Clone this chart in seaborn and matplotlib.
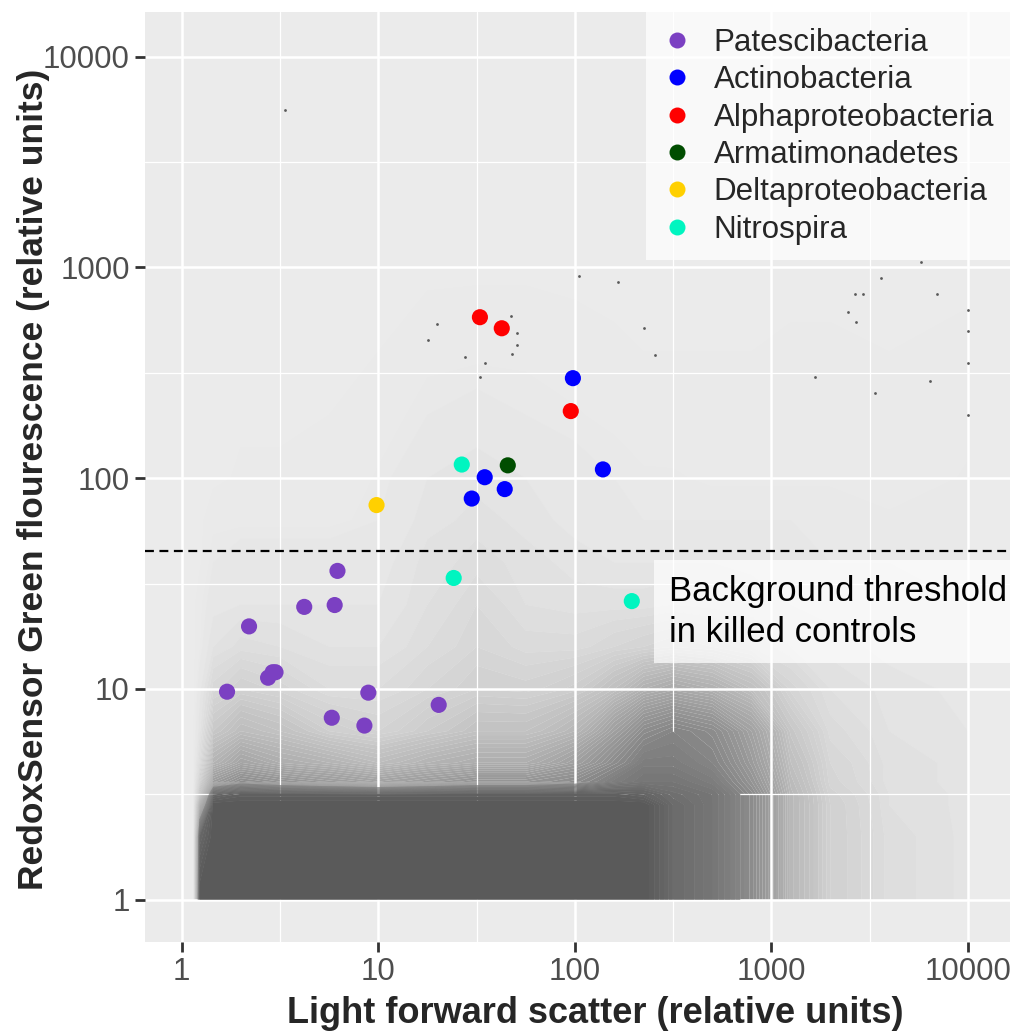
import numpy as np
import pandas as pd
import matplotlib
matplotlib.use("Agg")
import matplotlib.pyplot as plt
from matplotlib.colors import LinearSegmentedColormap
from matplotlib.lines import Line2D
import seaborn as sns

# ---------------- data ----------------
groups = ["Patescibacteria", "Actinobacteria", "Alphaproteobacteria",
          "Armatimonadetes", "Deltaproteobacteria", "Nitrospira"]
group_colors = ["#7B40C2", "#0000FF", "#FF0000", "#004D00", "#FFD000", "#00F5C0"]

pates_fsc = [1.7, 2.2, 2.75, 2.9, 3.0, 4.2, 6.0, 6.2, 5.8, 8.5, 8.9, 20.3]
pates_rsg = [9.7, 19.8, 11.3, 12.0, 12.0, 24.5, 25.0, 36.3, 7.3, 6.7, 9.6, 8.4]
actino_fsc = [97.8, 139, 34.8, 29.9, 44.0]
actino_rsg = [298, 110, 101, 80, 88.7]
alpha_fsc = [32.9, 42.5, 95.4]
alpha_rsg = [580, 514, 208]
armat_fsc = [45.6]
armat_rsg = [115]
delta_fsc = [9.8]
delta_rsg = [74.5]
nitro_fsc = [26.6, 24.2, 195]
nitro_rsg = [116, 33.6, 26.1]

threshold = 45

# background events: density (0-1) of the gray event cloud at grid nodes,
# node positions given as log10 of the axis values, read by eye
bg_x_nodes_log = [0.06, 0.09, 0.16, 0.3, 0.5, 0.75, 1.0, 1.25, 1.5, 1.75,
                  2.0, 2.2, 2.35, 2.5, 2.7, 2.9, 3.1, 3.3, 3.6, 4.0]
bg_y_nodes_log = [0.0, 0.3, 0.45, 0.5, 0.56, 0.65, 0.8, 1.0, 1.2, 1.4,
                  1.6, 1.8, 2.0, 2.3, 2.6, 3.0]
bg_density = [
    [0, 1.0, 1, 1, 1, 1, 1, 1, 1, 1, 1, 1, 1, 0.88, 0.8, 0.65, 0.35, 0.18, 0.09, 0.05],
    [0, 0.9, 1, 1, 1, 1, 1, 1, 1, 1, 1, 1, 1, 0.88, 0.8, 0.65, 0.35, 0.18, 0.09, 0.05],
    [0, 0.5, 1, 1, 1, 1, 1, 1, 1, 1, 1, 1, 1, 0.88, 0.8, 0.65, 0.35, 0.18, 0.08, 0.05],
    [0, 0.3, 0.9, 0.95, 0.95, 0.95, 0.95, 0.95, 0.95, 0.95, 0.95, 0.95, 0.92, 0.85, 0.8, 0.65, 0.35, 0.17, 0.08, 0.05],
    [0, 0.18, 0.55, 0.65, 0.6, 0.55, 0.5, 0.55, 0.6, 0.6, 0.65, 0.75, 0.8, 0.8, 0.75, 0.6, 0.33, 0.15, 0.07, 0.05],
    [0, 0.1, 0.38, 0.48, 0.42, 0.38, 0.32, 0.38, 0.42, 0.42, 0.52, 0.65, 0.75, 0.75, 0.7, 0.55, 0.3, 0.14, 0.07, 0.05],
    [0, 0.05, 0.24, 0.32, 0.28, 0.2, 0.16, 0.22, 0.28, 0.28, 0.36, 0.52, 0.65, 0.7, 0.65, 0.5, 0.25, 0.11, 0.06, 0.04],
    [0, 0.03, 0.13, 0.18, 0.15, 0.1, 0.1, 0.14, 0.18, 0.17, 0.21, 0.3, 0.4, 0.45, 0.4, 0.3, 0.15, 0.08, 0.05, 0.03],
    [0, 0.01, 0.06, 0.09, 0.08, 0.06, 0.06, 0.1, 0.14, 0.11, 0.11, 0.14, 0.16, 0.18, 0.16, 0.12, 0.08, 0.05, 0.03, 0.03],
    [0, 0.01, 0.03, 0.04, 0.04, 0.04, 0.04, 0.08, 0.12, 0.08, 0.07, 0.07, 0.07, 0.08, 0.07, 0.06, 0.04, 0.03, 0.03, 0.02],
    [0, 0, 0.02, 0.03, 0.03, 0.03, 0.03, 0.07, 0.09, 0.07, 0.05, 0.04, 0.04, 0.04, 0.04, 0.03, 0.03, 0.02, 0.02, 0.02],
    [0, 0, 0.01, 0.01, 0.01, 0.01, 0.02, 0.05, 0.07, 0.05, 0.03, 0.025, 0.02, 0.02, 0.02, 0.02, 0.02, 0.02, 0.015, 0.02],
    [0, 0, 0, 0.005, 0.005, 0.008, 0.015, 0.04, 0.05, 0.04, 0.025, 0.02, 0.015, 0.015, 0.012, 0.012, 0.012, 0.012, 0.01, 0.015],
    [0, 0, 0, 0, 0, 0.003, 0.008, 0.02, 0.025, 0.02, 0.015, 0.01, 0.008, 0.006, 0.006, 0.006, 0.006, 0.006, 0.006, 0.01],
    [0, 0, 0, 0, 0, 0, 0.003, 0.008, 0.01, 0.01, 0.006, 0.004, 0.003, 0.003, 0.003, 0.003, 0.004, 0.004, 0.003, 0.005],
    [0, 0, 0, 0, 0, 0, 0, 0, 0, 0, 0, 0, 0, 0, 0, 0, 0, 0, 0, 0],
]

# isolated background events in the sparse upper region
sparse_fsc = [3.34, 5800, 3600, 2660, 2920, 2450, 2700, 7000, 166, 224, 257, 105,
              1660, 6450, 3360, 47.6, 20, 17.9, 27.5, 51, 51, 48, 34.8, 32.9,
              10000, 10000, 10000, 10000]
sparse_rsg = [5550, 1060, 887, 745, 745, 617, 550, 745, 849, 515, 383, 906,
              301, 288, 253, 586, 541, 451, 376, 490, 427, 390, 351, 302,
              625, 500, 350, 200]

ann_x, ann_y = 300, 23.2
ann_text = "Background threshold\nin killed controls"

# ---------------- styling ----------------
sns.set_theme(style="darkgrid", rc={
    "axes.facecolor": "#EBEBEB",
    "grid.color": "white",
    "axes.edgecolor": "#EBEBEB",
})
plt.rcParams["font.family"] = ["Liberation Sans", "DejaVu Sans"]

fig = plt.figure(figsize=(10.16, 10.31), dpi=100)
ax = fig.add_axes([0.1427, 0.0863, 0.994 - 0.1427, 0.988 - 0.0863])
ax.set_xscale("log")
ax.set_yscale("log")
for s in ax.spines.values():
    s.set_visible(False)

ax.set_xticks([1, 10, 100, 1000, 10000])
ax.set_yticks([1, 10, 100, 1000, 10000])
ax.set_xticks([10 ** (k + 0.5) for k in range(-1, 5)], minor=True)
ax.set_yticks([10 ** (k + 0.5) for k in range(-1, 5)], minor=True)
ax.set_xticklabels(["1", "10", "100", "1000", "10000"])
ax.set_yticklabels(["1", "10", "100", "1000", "10000"])
ax.grid(which="major", color="white", linewidth=1.8)
ax.grid(which="minor", color="white", linewidth=0.9)
ax.set_axisbelow(True)   # grid at zorder 0.5
ax.tick_params(which="major", length=7, width=2.0, color="#333333",
               labelsize=22.5, labelcolor="#4D4D4D", pad=4,
               bottom=True, left=True)
ax.tick_params(which="minor", length=0)

# background event cloud (filled density bands, opaque shades)
cloud_cmap = LinearSegmentedColormap.from_list("cloud", ["#EBEBEB", "#595959"])
XX, YY = np.meshgrid(10 ** np.array(bg_x_nodes_log), 10 ** np.array(bg_y_nodes_log))
D = np.array(bg_density)
levels = np.concatenate([[0.003, 0.008, 0.014], np.linspace(0.02, 1.001, 50)])
ax.contourf(XX, YY, D, levels=levels, cmap=cloud_cmap, vmin=0, vmax=1,
            antialiased=True, zorder=0.2)
# the densest part of the cloud hides the grid lines
dense_levels = [lv for lv in levels if lv >= 0.7]
ax.contourf(XX, YY, D, levels=dense_levels, cmap=cloud_cmap, vmin=0, vmax=1,
            antialiased=True, zorder=0.8)

sns.scatterplot(x=sparse_fsc, y=sparse_rsg, ax=ax, color="#595959", s=4,
                linewidth=0, legend=False, zorder=2)

# threshold
ax.axhline(threshold, color="black", linestyle=(0, (4, 2.5)), linewidth=1.6, zorder=3)

# colored populations
series = [(pates_fsc, pates_rsg), (actino_fsc, actino_rsg), (alpha_fsc, alpha_rsg),
          (armat_fsc, armat_rsg), (delta_fsc, delta_rsg), (nitro_fsc, nitro_rsg)]
rows = []
for g, (xs, ys) in zip(groups, series):
    for xv, yv in zip(xs, ys):
        rows.append({"fsc": xv, "rsg": yv, "group": g})
df = pd.DataFrame(rows)
sns.scatterplot(data=df, x="fsc", y="rsg", hue="group", hue_order=groups,
                palette=dict(zip(groups, group_colors)), s=135, linewidth=0,
                ax=ax, legend=False, zorder=4)

ax.set_xlim(0.65, 16370)
ax.set_ylim(0.63, 16200)

# annotation label
ax.text(ann_x, ann_y, ann_text, fontsize=25, color="black", ha="left", va="center",
        linespacing=1.3, zorder=5,
        bbox=dict(boxstyle="square,pad=0.42", facecolor="white", alpha=0.7,
                  edgecolor="none"))

# legend
handles = [Line2D([0], [0], marker="o", linestyle="none", markersize=11.5,
                  markerfacecolor=c, markeredgewidth=0) for c in group_colors]
leg = ax.legend(handles, groups, loc="upper right", bbox_to_anchor=(1.0, 1.0),
                borderaxespad=0, frameon=True, fancybox=False, fontsize=22.5,
                handletextpad=0.68, labelspacing=0.235, borderpad=0.5,
                handlelength=1.0)
leg.get_frame().set_facecolor("white")
leg.get_frame().set_alpha(0.7)
leg.get_frame().set_edgecolor("none")
leg.set_zorder(6)

ax.set_xlabel("Light forward scatter (relative units)", fontsize=26,
              fontweight="bold")
ax.set_ylabel("RedoxSensor Green flourescence (relative units)", fontsize=25.5,
              fontweight="bold")
ax.xaxis.label.set_verticalalignment("baseline")
ax.xaxis.set_label_coords(0.521, -0.0871)
ax.yaxis.set_label_coords(-0.110, 0.498)

fig.savefig("out.png", dpi=100)
